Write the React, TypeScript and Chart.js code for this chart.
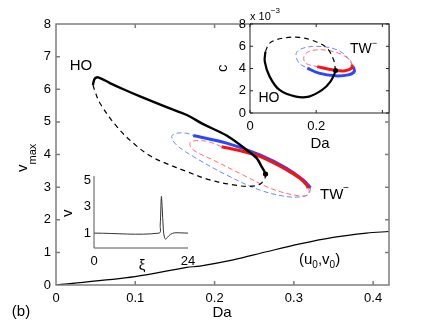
import React, { useEffect, useRef } from "react";
import { Chart, registerables } from "chart.js";

Chart.register(...registerables);

const FONT = "'Liberation Sans', Arial, Helvetica, sans-serif";

// ---------- Main panel: v_max versus Da ----------
const hoSolidDa = [0.0466, 0.048, 0.050, 0.054, 0.068, 0.085, 0.106, 0.1395, 0.165, 0.1857, 0.2152, 0.2404, 0.253, 0.2593, 0.2635, 0.2643];
const hoSolidV = [6.13, 6.28, 6.35, 6.36, 6.19, 6.0, 5.78, 5.45, 5.21, 4.93, 4.58, 4.14, 3.89, 3.63, 3.45, 3.40];
const hoDashDa = [0.0466, 0.049, 0.0555, 0.0765, 0.0974, 0.1185, 0.1395, 0.1647, 0.1941, 0.2235, 0.2445, 0.2572, 0.2635, 0.2643];
const hoDashV = [6.13, 5.95, 5.57, 4.86, 4.35, 3.96, 3.72, 3.48, 3.22, 3.07, 3.02, 3.09, 3.27, 3.40];
const twBlueSolidDa = [0.1731, 0.2152, 0.2572, 0.2908, 0.3117, 0.321];
const twBlueSolidV = [4.58, 4.35, 3.99, 3.58, 3.22, 2.98];
const twBlueDashDa = [0.321, 0.3193, 0.3117, 0.2908, 0.2572, 0.2152, 0.1731, 0.1521, 0.1458, 0.1521, 0.1647, 0.1731];
const twBlueDashV = [2.98, 2.81, 2.71, 2.71, 2.91, 3.37, 3.94, 4.29, 4.55, 4.65, 4.65, 4.58];
const twRedSolidDa = [0.2089, 0.2361, 0.2572, 0.2908, 0.3076, 0.316, 0.318];
const twRedSolidV = [4.24, 4.09, 3.94, 3.53, 3.27, 3.07, 2.97];
const twRedDashDa = [0.318, 0.3193, 0.316, 0.2991, 0.2698, 0.2361, 0.1983, 0.1731, 0.1689, 0.1774, 0.1941, 0.2089];
const twRedDashV = [2.97, 2.86, 2.74, 2.76, 2.97, 3.37, 3.83, 4.14, 4.35, 4.43, 4.38, 4.24];
const restDa = [0, 0.0996, 0.165, 0.1815, 0.2235, 0.2656, 0.3076, 0.3496, 0.3917, 0.42];
const restV = [0, 0.255, 0.54, 0.58, 0.77, 1.02, 1.26, 1.46, 1.59, 1.64];
const mainXTicks = [0, 0.1, 0.2, 0.3, 0.4];
const mainYTicks = [0, 1, 2, 3, 4, 5, 6, 7, 8];

// ---------- Inset: c (x 10^-3) versus Da ----------
const cHoSolidDa = [0.0467, 0.0446, 0.0594, 0.0892, 0.139, 0.178, 0.218, 0.243, 0.258, 0.2585];
const cHoSolidC = [5.53, 4.63, 3.27, 2.07, 1.47, 1.47, 2.07, 2.82, 3.72, 3.81];
const cHoDashDa = [0.0467, 0.0594, 0.099, 0.1486, 0.198, 0.2327, 0.2526, 0.2585];
const cHoDashC = [5.53, 6.28, 6.73, 6.79, 6.43, 5.83, 4.78, 3.81];
const cBlueSolidDa = [0.173, 0.208, 0.2577, 0.297, 0.315, 0.312];
const cBlueSolidC = [4.03, 3.58, 3.34, 3.43, 3.72, 4.17];
const cBlueDashDa = [0.312, 0.287, 0.2476, 0.188, 0.1486, 0.1388, 0.1486, 0.173];
const cBlueDashC = [4.17, 5.23, 5.83, 5.98, 5.68, 5.23, 4.48, 4.03];
const cRedSolidDa = [0.203, 0.2476, 0.287, 0.307, 0.309];
const cRedSolidC = [4.17, 3.88, 3.79, 4.03, 4.33];
const cRedDashDa = [0.309, 0.302, 0.2675, 0.218, 0.178, 0.163, 0.168, 0.203];
const cRedDashC = [4.33, 4.78, 5.38, 5.68, 5.53, 5.08, 4.48, 4.17];
const insetXTicks = [0, 0.2, 0.4];
const insetXLabels = ["0", "0.2", ""];
const insetYTicks = [0, 2, 4, 6, 8];

// ---------- Inset: wave profile v versus xi ----------
const waveXi = [0, 16.6, 16.9, 17.2, 17.4, 17.7, 18.0, 18.3, 18.8, 19.5, 20.5, 22, 24];
const waveV = [1, 1, 1.6, 3.75, 3.0, 1.3, 0.65, 0.55, 0.7, 0.9, 1.02, 1.02, 1.0];
const waveXTicks = [0, 24];
const waveYTicks = [1, 3, 5];

type Seg = { t: string; size: number; dy?: number };
type Note = { segs: Seg[]; x: number; y: number; align?: "left" | "center"; rot?: boolean };

const zip = (xs: number[], ys: number[]) => xs.map((x, i) => ({ x, y: ys[i] }));

const line = (xs: number[], ys: number[], color: string, width: number, dash: number[] = [], order = 5) => ({
  data: zip(xs, ys),
  borderColor: color,
  backgroundColor: color,
  borderWidth: width,
  borderDash: dash,
  showLine: true,
  pointRadius: 0,
  tension: 0.35,
  fill: false,
  order,
});

const dot = (x: number, y: number, r: number) => ({
  data: [{ x, y }],
  borderColor: "#000",
  backgroundColor: "#000",
  pointRadius: r,
  borderWidth: 0,
  showLine: false,
  order: 0,
});

function drawRich(ctx: CanvasRenderingContext2D, n: Note) {
  ctx.save();
  ctx.translate(n.x, n.y);
  if (n.rot) ctx.rotate(-Math.PI / 2);
  ctx.textBaseline = "alphabetic";
  ctx.textAlign = "left";
  ctx.fillStyle = "#000";
  let w = 0;
  const ws = n.segs.map((s) => {
    ctx.font = `${s.size}px ${FONT}`;
    const m = ctx.measureText(s.t).width;
    w += m;
    return m;
  });
  let cx = n.align === "center" ? -w / 2 : 0;
  n.segs.forEach((s, i) => {
    ctx.font = `${s.size}px ${FONT}`;
    ctx.fillText(s.t, cx, s.dy || 0);
    cx += ws[i];
  });
  ctx.restore();
}

const framePlugin = {
  id: "frame",
  beforeDatasetsDraw(chart: any, _a: any, o: any) {
    if (!o || !o.fill) return;
    const { ctx, chartArea: a } = chart;
    ctx.save();
    ctx.fillStyle = o.fill;
    ctx.fillRect(a.left, a.top, a.right - a.left, a.bottom - a.top);
    ctx.restore();
  },
  afterDraw(chart: any, _a: any, o: any) {
    const { ctx, chartArea: a, scales } = chart;
    ctx.save();
    ctx.strokeStyle = o.color;
    ctx.lineWidth = o.width;
    ctx.beginPath();
    if (o.box) {
      ctx.rect(a.left, a.top, a.right - a.left, a.bottom - a.top);
    } else {
      ctx.moveTo(a.left, a.top);
      ctx.lineTo(a.left, a.bottom);
      ctx.lineTo(a.right, a.bottom);
    }
    const L = o.tick;
    if (L > 0) {
      scales.x.ticks.forEach((t: any) => {
        const px = scales.x.getPixelForValue(t.value);
        ctx.moveTo(px, a.bottom);
        ctx.lineTo(px, a.bottom - L);
        if (o.box) {
          ctx.moveTo(px, a.top);
          ctx.lineTo(px, a.top + L);
        }
      });
      scales.y.ticks.forEach((t: any) => {
        const py = scales.y.getPixelForValue(t.value);
        ctx.moveTo(a.left, py);
        ctx.lineTo(a.left + L, py);
        if (o.box) {
          ctx.moveTo(a.right, py);
          ctx.lineTo(a.right - L, py);
        }
      });
    }
    ctx.stroke();
    ctx.restore();
    (o.notes || []).forEach((n: Note) => drawRich(ctx, n));
  },
};

const tickFont = (size: number) => ({ size, family: FONT });

function scaleOpts(
  min: number,
  max: number,
  ticks: number[],
  labels: string[] | null,
  size: number,
  pad: number,
  fit: (s: any) => void
) {
  return {
    type: "linear" as const,
    min,
    max,
    grid: { display: false, drawTicks: false },
    border: { display: false },
    afterFit: fit,
    afterBuildTicks: (s: any) => {
      s.ticks = ticks.map((v) => ({ value: v }));
    },
    ticks: {
      color: "#000",
      font: tickFont(size),
      padding: pad,
      maxRotation: 0,
      autoSkip: false,
      callback: (v: any, i: number) => (labels ? labels[i] : String(v)),
    },
  };
}

function useChart(ref: React.RefObject<HTMLCanvasElement>, make: () => any) {
  useEffect(() => {
    if (!ref.current) return;
    const c = new Chart(ref.current, make());
    return () => c.destroy();
  }, []);
}

const canvasStyle: React.CSSProperties = { position: "absolute", left: 0, top: 0, width: 429, height: 323 };

export default function App() {
  const mainRef = useRef<HTMLCanvasElement>(null);
  const cRef = useRef<HTMLCanvasElement>(null);
  const waveRef = useRef<HTMLCanvasElement>(null);

  useChart(mainRef, () => ({
    type: "scatter",
    data: {
      datasets: [
        line(hoSolidDa, hoSolidV, "#000", 2.4, [], 1),
        line(hoDashDa, hoDashV, "#000", 1.2, [5, 4], 3),
        line(twBlueDashDa, twBlueDashV, "#6a86ff", 1, [5, 3], 6),
        line(twRedDashDa, twRedDashV, "#ff6a6a", 1, [5, 3], 5),
        line(twBlueSolidDa, twBlueSolidV, "#2a46ff", 3, [], 4),
        line(twRedSolidDa, twRedSolidV, "#ff1010", 3, [], 3),
        line(restDa, restV, "#000", 1.2, [], 2),
        dot(0.2643, 3.4, 2.6),
      ],
    },
    options: {
      animation: false,
      responsive: false,
      maintainAspectRatio: false,
      layout: { padding: { left: 16, top: 24, right: 40, bottom: 8 } },
      plugins: {
        legend: { display: false },
        tooltip: { enabled: false },
        frame: {
          color: "#7d7d7d",
          width: 1.5,
          box: true,
          tick: 4,
          notes: [
            { segs: [{ t: "HO", size: 15 }], x: 81, y: 69.5, align: "center" },
            { segs: [{ t: "TW", size: 15 }, { t: "\u2212", size: 10, dy: -8 }], x: 320, y: 199 },
            {
              segs: [
                { t: "(u", size: 15 },
                { t: "0", size: 10, dy: 4 },
                { t: ",v", size: 15 },
                { t: "0", size: 10, dy: 4 },
                { t: ")", size: 15 },
              ],
              x: 299,
              y: 264,
            },
            { segs: [{ t: "(b)", size: 15 }], x: 21, y: 316, align: "center" },
            { segs: [{ t: "Da", size: 15 }], x: 222, y: 317, align: "center" },
            { segs: [{ t: "v", size: 15 }, { t: "max", size: 11, dy: 9 }], x: 27, y: 172, rot: true },
          ],
        },
      },
      scales: {
        x: scaleOpts(0, 0.42, mainXTicks, null, 13, 6, (s: any) => { s.height = 30; }),
        y: scaleOpts(0, 8, mainYTicks, null, 13, 5, (s: any) => { s.width = 40; }),
      },
    },
    plugins: [framePlugin],
  }));

  useChart(cRef, () => ({
    type: "scatter",
    data: {
      datasets: [
        line(cHoSolidDa, cHoSolidC, "#000", 2.2, [], 1),
        line(cHoDashDa, cHoDashC, "#000", 1.2, [5, 4], 3),
        line(cBlueDashDa, cBlueDashC, "#6a86ff", 1, [5, 3], 6),
        line(cRedDashDa, cRedDashC, "#ff6a6a", 1, [5, 3], 5),
        line(cBlueSolidDa, cBlueSolidC, "#2a46ff", 3, [], 4),
        line(cRedSolidDa, cRedSolidC, "#ff1010", 3, [], 3),
        dot(0.2585, 3.81, 2.5),
      ],
    },
    options: {
      animation: false,
      responsive: false,
      maintainAspectRatio: false,
      layout: { padding: { left: 220, top: 24, right: 40, bottom: 185 } },
      plugins: {
        legend: { display: false },
        tooltip: { enabled: false },
        frame: {
          color: "#222",
          width: 1,
          box: true,
          tick: 3,
          fill: "#fff",
          notes: [
            { segs: [{ t: "c", size: 15 }], x: 227, y: 72, rot: true },
            { segs: [{ t: "HO", size: 14 }], x: 269, y: 102, align: "center" },
            { segs: [{ t: "TW", size: 14 }, { t: "\u2212", size: 9, dy: -7 }], x: 350, y: 53 },
            { segs: [{ t: "Da", size: 15 }], x: 320, y: 148, align: "center" },
            { segs: [{ t: "x 10", size: 11 }, { t: "\u22123", size: 8, dy: -7 }], x: 250, y: 20 },
          ],
        },
      },
      scales: {
        x: scaleOpts(0, 0.42, insetXTicks, insetXLabels, 13, 6, (s: any) => { s.height = 25; }),
        y: scaleOpts(0, 8, insetYTicks, null, 13, 4, (s: any) => { s.width = 30; }),
      },
    },
    plugins: [framePlugin],
  }));

  useChart(waveRef, () => ({
    type: "scatter",
    data: {
      datasets: [line(waveXi, waveV, "#333", 1, [], 1)],
    },
    options: {
      animation: false,
      responsive: false,
      maintainAspectRatio: false,
      layout: { padding: { left: 74, top: 176, right: 241, bottom: 55 } },
      plugins: {
        legend: { display: false },
        tooltip: { enabled: false },
        frame: {
          color: "#555",
          width: 1,
          box: false,
          tick: 0,
          notes: [
            { segs: [{ t: "v", size: 15 }], x: 72, y: 217, rot: true },
            { segs: [{ t: "\u03be", size: 15 }], x: 142, y: 270, align: "center" },
          ],
        },
      },
      scales: {
        x: scaleOpts(0, 24, waveXTicks, null, 13, 6, (s: any) => { s.height = 20; }),
        y: scaleOpts(-0.12, 5.3, waveYTicks, null, 13, 3, (s: any) => { s.width = 20; }),
      },
    },
    plugins: [framePlugin],
  }));

  return (
    <div style={{ position: "fixed", left: 0, top: 0, width: 429, height: 323, background: "#fff" }}>
      <canvas ref={mainRef} width={429} height={323} style={canvasStyle} />
      <canvas ref={waveRef} width={429} height={323} style={canvasStyle} />
      <canvas ref={cRef} width={429} height={323} style={canvasStyle} />
    </div>
  );
}
